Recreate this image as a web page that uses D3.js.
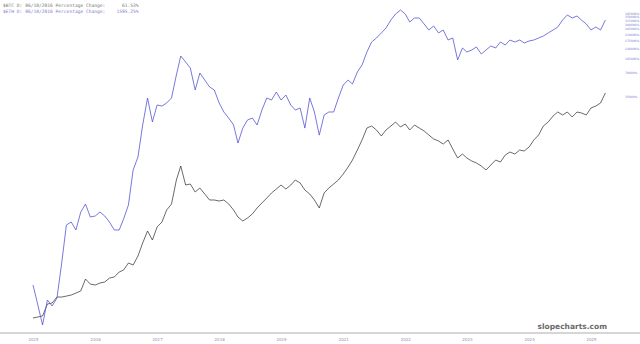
<!DOCTYPE html>
<html>
<head>
    <meta charset="utf-8">
    <title>BTC vs ETH percentage change</title>
    <script src="https://d3js.org/d3.v7.min.js"></script>
    <style>
        html, body { margin: 0; background: #fff; }
        svg { display: block; }
        .hdr { font-family: "DejaVu Sans Mono", monospace; font-size: 4.6px; white-space: pre; }
        .tick text { font-family: "DejaVu Sans", sans-serif; }
    </style>
</head>
<body>
<svg width="640" height="344"></svg>
<script>
    // monthly closes, indexed to 100 at the first bar
    const startDate = new Date(2015, 7, 8);
    const ethValues = [154, 86.6, 48.7, 100, 84.1, 106, 299, 866, 944, 750,
        1259, 1585, 1090, 1122, 1259, 1122, 944, 750, 750, 1029,
        1540, 4217, 6130, 15400, 33500, 16800, 27400, 26600, 29000, 33500,
        64900, 112200, 94400, 79400, 42200, 68800, 56200, 46000, 42200, 29000,
        22400, 18800, 15400, 9170, 14100, 17800, 18800, 15400, 23700, 33500,
        31600, 39800, 31600, 36500, 27400, 23700, 25100, 14100, 33500, 22400,
        11500, 20500, 22400, 22400, 33500, 48700, 56200, 50100, 70800, 86600,
        125900, 167900, 188400, 217600, 251200, 316200, 375800, 421700, 375800, 298500,
        335000, 335000, 281800, 237100, 266100, 217600, 237100, 177800, 188400, 100000,
        141300, 125900, 133400, 145400, 118900, 133400, 149600, 141300, 167900, 154000,
        177800, 167900, 177800, 163100, 172800, 177800, 188400, 199500, 217600, 237100,
        258500, 316200, 365200, 335000, 354800, 316200, 281800, 237100, 258500, 237100,
        316200];
    const btcValues = [59.6, 61.3, 63.1, 89.1, 91.7, 109, 109, 112, 115.5, 122,
        130, 183, 158, 154, 163, 168, 188, 194, 224, 237,
        290, 274, 355, 516, 729, 562, 818, 944, 1334, 1585,
        3162, 4730, 2738, 2818, 2239, 2512, 2113, 1778, 1778, 1728,
        1778, 1585, 1334, 1090, 972, 1059, 1189, 1413, 1631, 1884,
        2176, 2441, 2738, 2441, 2738, 3162, 2900, 2371, 2113, 1778,
        1413, 2176, 2512, 2818, 3162, 3758, 4597, 5623, 7499, 10000,
        14130, 14960, 13340, 11220, 13340, 14960, 16790, 14540, 15850, 13340,
        15400, 14130, 12960, 11550, 10290, 9720, 8910, 10000, 7720, 5960,
        6680, 5960, 5460, 5160, 4730, 4217, 4870, 5623, 5310, 6490,
        7080, 6680, 7499, 7290, 8170, 10000, 11550, 14960, 16790, 19950,
        22390, 20540, 22390, 19390, 22390, 21760, 20540, 25120, 26610, 29000,
        38680];
    const xTickLabels = ["2015", "2016", "2017", "2018", "2019", "2021", "2022", "2023", "2024", "2025"];
    const yTickValues = [35000, 70000, 105000, 140000, 175000, 210000, 245000, 280000, 315000, 350000, 385000];
    const headerLines = [
        "$BTC D: 06/10/2016 Percentage Change:      61.53%",
        "$ETH D: 06/10/2016 Percentage Change:    1595.25%"
    ];

    const svg = d3.select("svg");
    const dates = btcValues.map((v, i) => d3.timeMonth.offset(startDate, i));

    const x = d3.scaleTime()
        .domain([dates[0], dates[dates.length - 1]])
        .range([33, 605.4]);
    const y = d3.scaleLog()
        .domain([37.6, 501187])
        .range([334, 4]);

    // x axis
    svg.append("line")
        .attr("x1", 0).attr("x2", 640)
        .attr("y1", 333).attr("y2", 333)
        .attr("stroke", "#c8c8c8")
        .attr("stroke-width", 1.5);

    const tickDates = xTickLabels.map((l, i) => d3.timeMonth.offset(startDate, i * 13));
    const xAxis = svg.append("g")
        .attr("transform", "translate(0,334)")
        .call(d3.axisBottom(x).tickValues(tickDates).tickSize(0).tickPadding(4)
            .tickFormat((d, i) => xTickLabels[i]));
    xAxis.select(".domain").remove();
    xAxis.selectAll("text").attr("font-size", 4).attr("fill", "#8c8cb0");

    // right axis
    const yAxis = svg.append("g")
        .attr("transform", "translate(624,0)")
        .call(d3.axisRight(y).tickValues(yTickValues).tickSize(0).tickPadding(1)
            .tickFormat(d => d + "%"));
    yAxis.select(".domain").remove();
    yAxis.selectAll("text").attr("font-size", 3).attr("fill", "#7b7bcc");

    const line = d3.line()
        .x((d, i) => x(dates[i]))
        .y(d => y(d));

    svg.append("path")
        .datum(btcValues)
        .attr("fill", "none")
        .attr("stroke", "#2a2a2a")
        .attr("stroke-width", 0.7)
        .attr("d", line);

    svg.append("path")
        .datum(ethValues)
        .attr("fill", "none")
        .attr("stroke", "#5555d6")
        .attr("stroke-width", 0.8)
        .attr("d", line);

    svg.selectAll(".hdr")
        .data(headerLines)
        .enter().append("text")
        .attr("class", "hdr")
        .attr("x", 3)
        .attr("y", (d, i) => 6.5 + i * 6)
        .attr("fill", (d, i) => i === 0 ? "#777" : "#8080c8")
        .text(d => d);

    svg.append("text")
        .attr("x", 607)
        .attr("y", 329)
        .attr("text-anchor", "end")
        .attr("font-family", "DejaVu Sans, sans-serif")
        .attr("font-size", 7.5)
        .attr("font-weight", "bold")
        .attr("fill", "#6a6a6a")
        .text("slopecharts.com");
</script>
</body>
</html>
